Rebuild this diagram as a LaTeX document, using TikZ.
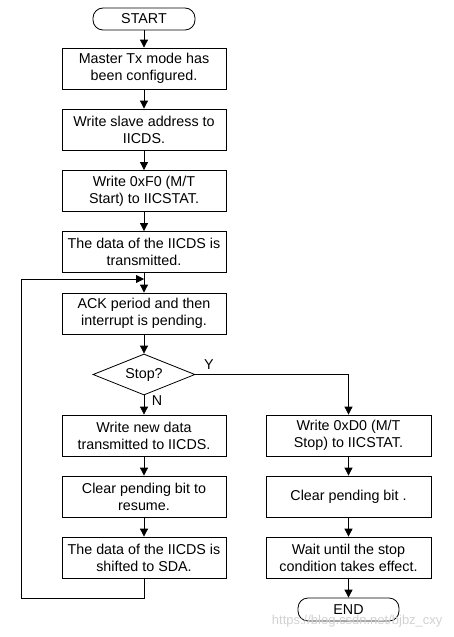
\documentclass[tikz,border=0pt]{standalone}
\usepackage{fontspec}
\setmainfont{Liberation Sans}
\usetikzlibrary{shapes.geometric,arrows.meta}
\begin{document}
\begin{tikzpicture}[x=1pt,y=-1pt,
  every node/.style={font=\fontsize{14.3}{17}\selectfont},
  box/.style={draw,line width=0.8pt,minimum width=164pt,minimum height=41pt,inner sep=0pt,align=center},
  term/.style={draw,line width=0.8pt,rounded corners=10pt,minimum width=102pt,minimum height=22pt,inner sep=0pt},
  dec/.style={draw,line width=0.8pt,diamond,aspect=2.49,minimum width=102pt,minimum height=41pt,inner sep=0pt},
  conn/.style={line width=0.8pt,-{Triangle[length=8pt,width=8pt]}},
  line/.style={line width=0.8pt}]
\useasboundingbox (0,0) rectangle (453,637);
\fill[white] (0,0) rectangle (453,637);
\node[term] (start) at (144,19) {START};
\node[box] (b1) at (144,68.5) {Master Tx mode has\\been configured.};
\node[box] (b2) at (144,129.5) {Write slave address to\\IICDS.};
\node[box] (b3) at (144,191) {Write 0xF0 (M/T\\Start) to IICSTAT.};
\node[box] (b4) at (144,252) {The data of the IICDS is\\transmitted.};
\node[box] (b5) at (144,313.5) {ACK period and then\\interrupt is pending.};
\node[dec] (d) at (144,374.5) {Stop?};
\node[box] (b6) at (144,435.5) {Write new data\\transmitted to IICDS.};
\node[box] (b7) at (144,496.5) {Clear pending bit to\\resume.};
\node[box] (b8) at (144,557.5) {The data of the IICDS is\\shifted to SDA.};
\node[box,minimum width=165pt] (r1) at (348.5,435.5) {Write 0xD0 (M/T\\Stop) to IICSTAT.};
\node[box,minimum width=165pt] (r2) at (348.5,496.5) {Clear pending bit .};
\node[box,minimum width=165pt] (r3) at (348.5,557.5) {Wait until the stop\\condition takes effect.};
\node[term,minimum width=101pt,minimum height=23pt] (end) at (348.5,609.5) {END};
\coordinate (lb) at (21,598);
\coordinate (lt) at (21,279);
\coordinate (j) at (144,279);
\draw[conn] (start) -- (b1);
\draw[conn] (b1) -- (b2);
\draw[conn] (b2) -- (b3);
\draw[conn] (b3) -- (b4);
\draw[conn] (b4) -- (b5);
\draw[conn] (b5) -- (d);
\draw[conn] (d) -- (b6);
\node[inner sep=0pt] (nlab) at (157,401) {N};
\draw[conn] (b6) -- (b7);
\draw[conn] (b7) -- (b8);
\draw[conn] (d.east) -| (r1.north);
\node[inner sep=0pt] (ylab) at (209,365) {Y};
\draw[conn] (r1) -- (r2);
\draw[conn] (r2) -- (r3);
\draw[conn] (r3) -- (end);
\draw[line] (b8.south) |- (lb) -- (lt);
\draw[conn] (lt) -- (j);
\node[text=gray!35,anchor=east,font=\fontsize{13}{15}\selectfont] (wm) at (446,621) {https://blog.csdn.net/bjbz\_cxy};
\end{tikzpicture}
\end{document}
